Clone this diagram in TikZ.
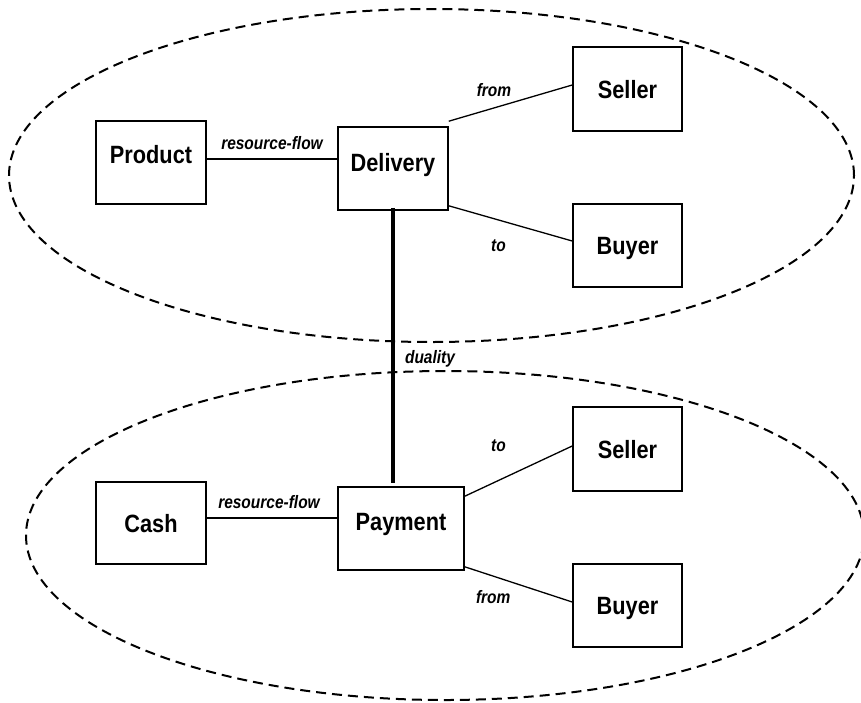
\documentclass[tikz,border=0pt]{standalone}
\usepackage{fontspec}
\setmainfont{Liberation Sans}
\newfontfamily\narrowsans{Liberation Sans}[FakeStretch=0.87]
\newfontfamily\narrowital{Liberation Sans}[FakeStretch=0.86]

\begin{document}
\begin{tikzpicture}[x=1pt,y=-1pt,
  entity/.style={draw, line width=1.6pt, minimum width=110pt, minimum height=83pt,
    inner sep=0pt, font=\narrowsans\bfseries\fontsize{25}{30}\selectfont,
    text height=18pt, text depth=0pt},
  raised/.style={text depth=#1},
  link/.style={line width=1.3pt},
  lbl/.style={font=\narrowital\bfseries\itshape\fontsize{18}{22}\selectfont, anchor=base, inner sep=0pt},
  group/.style={line width=2pt, dash pattern=on 10pt off 6pt},
  duality/.style={line width=4.2pt}]

\useasboundingbox (0,0) rectangle (861,702);

% event groups
\draw[group] (431.5,175.5) ellipse [x radius=422.5pt, y radius=166.5pt];
\draw[group] (445,535.5) ellipse [x radius=419pt, y radius=164.5pt];

% delivery side
\node[entity, raised=16.6pt] (product)  at (151,162.5) {Product};
\node[entity, raised=13pt]   (delivery) at (393,168.5) {Delivery};
\node[entity, minimum width=109pt, minimum height=84pt] (seller1) at (627.5,89) {Seller};
\node[entity, minimum width=109pt] (buyer1) at (627.5,245.5) {Buyer};

% payment side
\node[entity, minimum height=82pt] (cash) at (151,523) {Cash};
\node[entity, raised=15pt, minimum width=126pt] (payment) at (401,528.5) {Payment};
\node[entity, minimum width=109pt, minimum height=84pt] (seller2) at (627.5,449) {Seller};
\node[entity, minimum width=109pt] (buyer2) at (627.5,605.5) {Buyer};

% connectors
\draw[link] ([yshift=3.5pt]product.east) -- ([yshift=9.5pt]delivery.west);
\draw[link] ([yshift=5pt]delivery.north east) -- ([yshift=4pt]seller1.west);
\draw[link] ([yshift=5pt]delivery.south east) -- ([yshift=4.5pt]buyer1.west);
\draw[link] ([yshift=5pt]cash.east) -- ([yshift=10.5pt]payment.west);
\draw[link] ([yshift=-10pt]payment.north east) -- ([yshift=3pt]seller2.west);
\draw[link] ([yshift=4pt]payment.south east) -- ([yshift=3.5pt]buyer2.west);
\draw[duality, shorten <=-3pt, shorten >=3pt] (delivery.south) -- (payment.north -| delivery.south);

% connector labels
\node[lbl] (rf1) at (272,149.3) {resource-flow};
\node[lbl] (from1) at (494,96) {from};
\node[lbl] (to1) at (498.5,251.7) {to};
\node[lbl] (dual) at (430,363.5) {duality};
\node[lbl] (rf2) at (269,508.3) {resource-flow};
\node[lbl] (to2) at (498.5,451.7) {to};
\node[lbl] (from2) at (493.2,603.3) {from};
\end{tikzpicture}
\end{document}
